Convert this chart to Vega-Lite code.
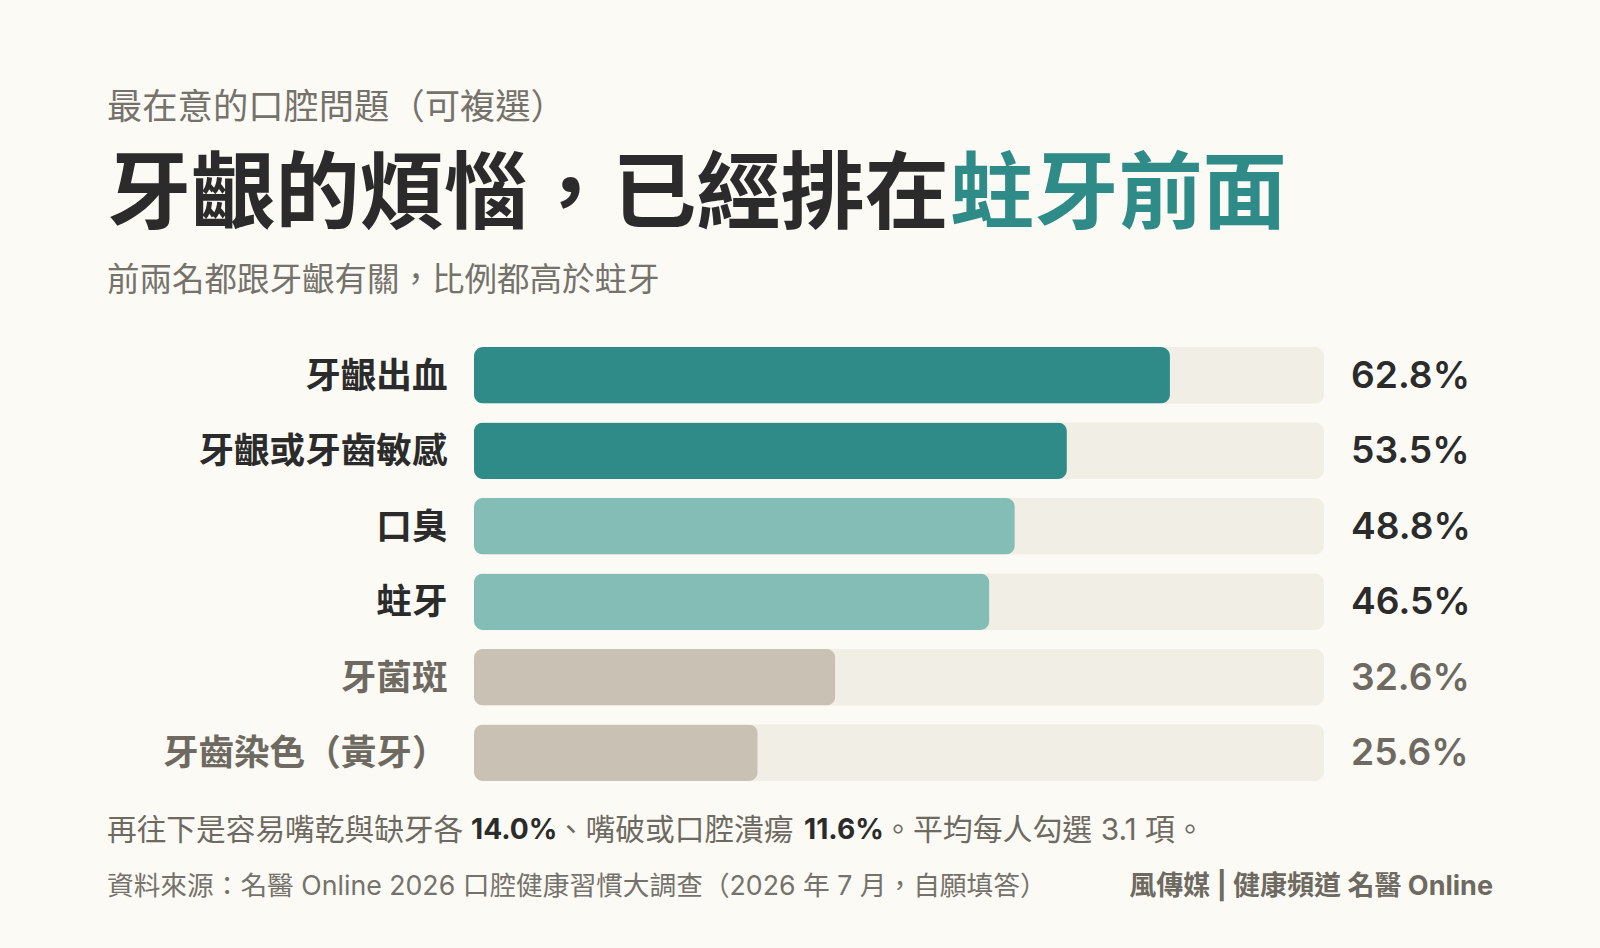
{
  "$schema": "https://vega.github.io/schema/vega-lite/v6.json",
  "background": "#FBFAF5",
  "autosize": "none",
  "padding": {"left": 474, "top": 347, "right": 276, "bottom": 167},
  "width": 850,
  "height": 434,
  "config": {
    "view": {"stroke": "transparent"},
    "font": "Inter, 'Noto Sans CJK TC'"
  },
  "data": {
    "values": [
      {"item": "牙齦出血", "pct": 62.8, "label": "62.8%", "tier": "gum"},
      {"item": "牙齦或牙齒敏感", "pct": 53.5, "label": "53.5%", "tier": "gum"},
      {"item": "口臭", "pct": 48.8, "label": "48.8%", "tier": "mid"},
      {"item": "蛀牙", "pct": 46.5, "label": "46.5%", "tier": "mid"},
      {"item": "牙菌斑", "pct": 32.6, "label": "32.6%", "tier": "low"},
      {"item": "牙齒染色（黃牙）", "pct": 25.6, "label": "25.6%", "tier": "low"}
    ]
  },
  "encoding": {
    "y": {
      "field": "item",
      "type": "nominal",
      "sort": null,
      "scale": {
        "domain": ["牙齦出血", "牙齦或牙齒敏感", "口臭", "蛀牙", "牙菌斑", "牙齒染色（黃牙）"],
        "paddingInner": 0.2513,
        "paddingOuter": 0
      },
      "axis": {
        "title": null,
        "domain": false,
        "ticks": false,
        "grid": false,
        "labelPadding": 27,
        "labelOffset": 1.5,
        "labelFont": "Inter, 'Noto Sans CJK TC'",
        "labelFontSize": 35.6,
        "labelFontWeight": 700,
        "labelLimit": 400,
        "labelColor": {
          "condition": {"test": "indexof(['牙菌斑', '牙齒染色（黃牙）'], datum.value) >= 0", "value": "#6E6A62"},
          "value": "#2B2B2B"
        }
      }
    }
  },
  "layer": [
    {
      "description": "track",
      "mark": {"type": "bar", "cornerRadius": 9, "color": "#F1EEE6"},
      "encoding": {
        "x": {"datum": 0, "type": "quantitative", "scale": {"domain": [0, 76.7], "nice": false}, "axis": null},
        "x2": {"datum": 76.7}
      }
    },
    {
      "description": "value bar",
      "mark": {"type": "bar", "cornerRadius": 9},
      "encoding": {
        "x": {"field": "pct", "type": "quantitative"},
        "color": {
          "field": "tier",
          "type": "nominal",
          "scale": {"domain": ["gum", "mid", "low"], "range": ["#2F8B87", "#84BDB5", "#C9C2B4"]},
          "legend": null
        }
      }
    },
    {
      "description": "value label",
      "mark": {"type": "text", "align": "left", "baseline": "middle", "dx": 27, "dy": 1.5, "fontSize": 37.2, "fontWeight": 600},
      "encoding": {
        "x": {"datum": 76.7, "type": "quantitative"},
        "text": {"field": "label"},
        "color": {
          "condition": {"test": "datum.pct < 40", "value": "#6E6A62"},
          "value": "#2B2B2B"
        }
      }
    },
    {
      "data": {"values": [{"t": "最在意的口腔問題（可複選）"}]},
      "mark": {"type": "text", "align": "left", "baseline": "middle", "dx": -367, "dy": -267, "fontSize": 35.3, "fontWeight": 400, "color": "#75726B"},
      "encoding": {"x": {"datum": 0, "type": "quantitative"}, "y": {"datum": "牙齦出血", "type": "nominal"}, "text": {"field": "t"}}
    },
    {
      "data": {"values": [{"t": "牙齦的煩惱，已經排在"}]},
      "mark": {"type": "text", "align": "left", "baseline": "middle", "dx": -367, "dy": -178, "fontSize": 84.2, "fontWeight": 700, "color": "#2B2B2B"},
      "encoding": {"x": {"datum": 0, "type": "quantitative"}, "y": {"datum": "牙齦出血", "type": "nominal"}, "text": {"field": "t"}}
    },
    {
      "data": {"values": [{"t": "蛀牙前面"}]},
      "mark": {"type": "text", "align": "left", "baseline": "middle", "dx": 476, "dy": -178, "fontSize": 84.2, "fontWeight": 700, "color": "#2F8B87"},
      "encoding": {"x": {"datum": 0, "type": "quantitative"}, "y": {"datum": "牙齦出血", "type": "nominal"}, "text": {"field": "t"}}
    },
    {
      "data": {"values": [{"t": "前兩名都跟牙齦有關，比例都高於蛀牙"}]},
      "mark": {"type": "text", "align": "left", "baseline": "middle", "dx": -367, "dy": -94, "fontSize": 32.5, "fontWeight": 400, "color": "#75726B"},
      "encoding": {"x": {"datum": 0, "type": "quantitative"}, "y": {"datum": "牙齦出血", "type": "nominal"}, "text": {"field": "t"}}
    },
    {
      "data": {"values": [{"t": "再往下是容易嘴乾與缺牙各"}]},
      "mark": {"type": "text", "align": "left", "baseline": "middle", "dx": -367, "dy": 456, "fontSize": 29.7, "color": "#6E6A62"},
      "encoding": {"x": {"datum": 0, "type": "quantitative"}, "y": {"datum": "牙齦出血", "type": "nominal"}, "text": {"field": "t"}}
    },
    {
      "data": {"values": [{"t": "14.0%"}]},
      "mark": {"type": "text", "align": "left", "baseline": "middle", "dx": -3, "dy": 456, "fontSize": 28.2, "fontWeight": 700, "color": "#2B2B2B"},
      "encoding": {"x": {"datum": 0, "type": "quantitative"}, "y": {"datum": "牙齦出血", "type": "nominal"}, "text": {"field": "t"}}
    },
    {
      "data": {"values": [{"t": "、嘴破或口腔潰瘍"}]},
      "mark": {"type": "text", "align": "left", "baseline": "middle", "dx": 82, "dy": 456, "fontSize": 29.7, "color": "#6E6A62"},
      "encoding": {"x": {"datum": 0, "type": "quantitative"}, "y": {"datum": "牙齦出血", "type": "nominal"}, "text": {"field": "t"}}
    },
    {
      "data": {"values": [{"t": "11.6%"}]},
      "mark": {"type": "text", "align": "left", "baseline": "middle", "dx": 330, "dy": 456, "fontSize": 28.2, "fontWeight": 700, "color": "#2B2B2B"},
      "encoding": {"x": {"datum": 0, "type": "quantitative"}, "y": {"datum": "牙齦出血", "type": "nominal"}, "text": {"field": "t"}}
    },
    {
      "data": {"values": [{"t": "。平均每人勾選 3.1 項。"}]},
      "mark": {"type": "text", "align": "left", "baseline": "middle", "dx": 409, "dy": 456, "fontSize": 29.9, "color": "#6E6A62"},
      "encoding": {"x": {"datum": 0, "type": "quantitative"}, "y": {"datum": "牙齦出血", "type": "nominal"}, "text": {"field": "t"}}
    },
    {
      "data": {"values": [{"t": "資料來源：名醫 Online 2026 口腔健康習慣大調查（2026 年 7 月，自願填答）"}]},
      "mark": {"type": "text", "align": "left", "baseline": "middle", "dx": -367, "dy": 512, "fontSize": 26.7, "color": "#75726B"},
      "encoding": {"x": {"datum": 0, "type": "quantitative"}, "y": {"datum": "牙齦出血", "type": "nominal"}, "text": {"field": "t"}}
    },
    {
      "data": {"values": [{"t": "風傳媒 | 健康頻道 名醫 Online"}]},
      "mark": {"type": "text", "align": "right", "baseline": "middle", "dx": 169, "dy": 512, "fontSize": 27, "fontWeight": 700, "color": "#6E6A62"},
      "encoding": {"x": {"datum": 76.7, "type": "quantitative"}, "y": {"datum": "牙齦出血", "type": "nominal"}, "text": {"field": "t"}}
    }
  ]
}
